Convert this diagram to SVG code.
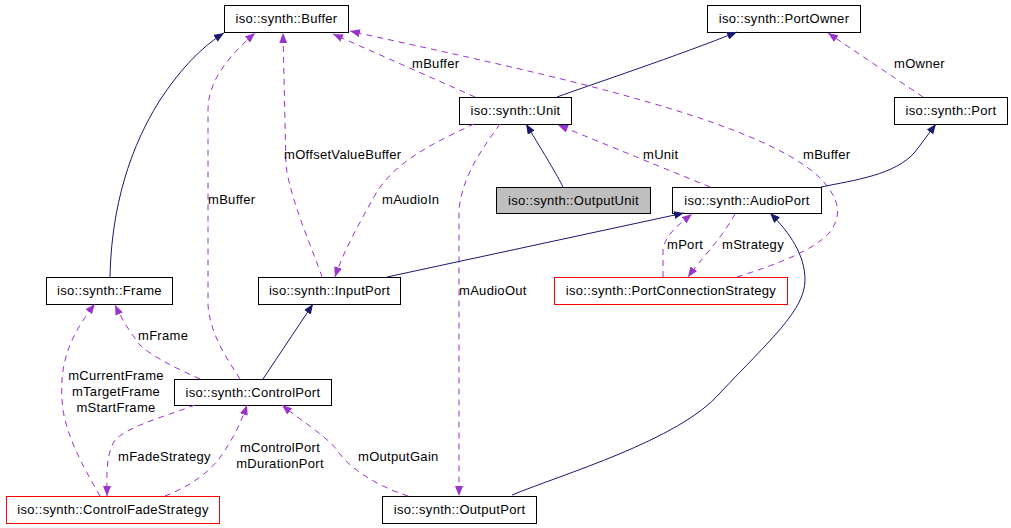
<svg xmlns="http://www.w3.org/2000/svg" width="1011" height="528" viewBox="0 0 1011 528">
<style>
text{font-family:"Liberation Sans",Arial,sans-serif;font-size:13px;letter-spacing:0.3px;fill:#000}
.n rect{fill:#fff;stroke:#000;stroke-width:1}
.n.red rect{stroke:#ff0000}
.n.grey rect{fill:#bfbfbf}
.n text{text-anchor:middle}
.inh{fill:none;stroke:#191970;stroke-width:1;marker-end:url(#an)}
.use{fill:none;stroke:#9a32cd;stroke-width:1;stroke-dasharray:6,5;marker-end:url(#ap)}
.lbl text{text-anchor:start}
.lbl text.lc{text-anchor:middle}
</style>
<defs>
<marker id="an" viewBox="0 0 10 8" refX="10" refY="4" markerWidth="10" markerHeight="8" markerUnits="userSpaceOnUse" orient="auto"><path d="M0,0 L10,4 L0,8 z" fill="#191970"/></marker>
<marker id="ap" viewBox="0 0 10 8" refX="10" refY="4" markerWidth="10" markerHeight="8" markerUnits="userSpaceOnUse" orient="auto"><path d="M0,0 L10,4 L0,8 z" fill="#9a32cd"/></marker>
</defs>
<rect width="1011" height="528" fill="#fff"/>
<g id="nodes">
<g id="Buffer" class="n"><rect x="224.5" y="5.5" width="124" height="27"/><text x="286.5" y="23">iso::synth::Buffer</text></g>
<g id="PortOwner" class="n"><rect x="707.5" y="5.5" width="153" height="27"/><text x="784" y="23">iso::synth::PortOwner</text></g>
<g id="Unit" class="n"><rect x="459.5" y="97.5" width="112" height="27"/><text x="515.5" y="115">iso::synth::Unit</text></g>
<g id="Port" class="n"><rect x="894.5" y="97.5" width="113" height="27"/><text x="951" y="115">iso::synth::Port</text></g>
<g id="OutputUnit" class="n grey"><rect x="496.5" y="187.5" width="154" height="26"/><text x="573.5" y="205">iso::synth::OutputUnit</text></g>
<g id="AudioPort" class="n"><rect x="672.5" y="187.5" width="149" height="26"/><text x="747" y="205">iso::synth::AudioPort</text></g>
<g id="Frame" class="n"><rect x="46.5" y="277.5" width="126" height="27"/><text x="109.5" y="295">iso::synth::Frame</text></g>
<g id="InputPort" class="n"><rect x="258.5" y="277.5" width="142" height="27"/><text x="329.5" y="295">iso::synth::InputPort</text></g>
<g id="PortConnectionStrategy" class="n red"><rect x="554.5" y="277.5" width="233" height="27"/><text x="671" y="295">iso::synth::PortConnectionStrategy</text></g>
<g id="ControlPort" class="n"><rect x="174.5" y="379.5" width="157" height="26"/><text x="253" y="397">iso::synth::ControlPort</text></g>
<g id="ControlFadeStrategy" class="n red"><rect x="6.5" y="496.5" width="213" height="27"/><text x="113" y="514">iso::synth::ControlFadeStrategy</text></g>
<g id="OutputPort" class="n"><rect x="382.5" y="496.5" width="154" height="27"/><text x="459.5" y="514">iso::synth::OutputPort</text></g>
</g>
<g id="connectors">
<path class="inh" d="M110,277 C111,225 122,160 160,100 C180,70 200,48 224,33"/>
<path class="use" d="M240,379 C228,360 210,335 208,305 L208,110 C208,80 230,55 255,33"/>
<path class="use" d="M322,277 C315,255 290,200 286,165 L283,33"/>
<path class="use" d="M475,97 L333,34"/>
<path class="use" d="M737,277 C775,265 815,250 830,232 C842,215 840,200 822,180 C760,115 500,65 350,31"/>
<path class="inh" d="M557,97 C590,85 680,55 737,32"/>
<path class="use" d="M923,97 L828,33"/>
<path class="inh" d="M821,187 C855,180 895,175 915,152 L936,124"/>
<path class="use" d="M710,187 L558,125"/>
<path class="inh" d="M563,187 C557,175 545,155 526,124"/>
<path class="use" d="M474,124 C440,140 395,160 375,195 C360,222 343,252 335,277"/>
<path class="use" d="M500,124 C485,145 462,175 459,210 L459,496"/>
<path class="inh" d="M387,277 L684,213"/>
<path class="use" d="M663,277 L663,250 C665,235 678,225 692,214"/>
<path class="use" d="M735,214 C722,238 700,260 688,277"/>
<path class="inh" d="M512,495 C560,475 680,440 720,393 C770,340 805,310 805,280 C805,255 790,233 770,213"/>
<path class="inh" d="M263,379 L313,304"/>
<path class="use" d="M200,379 C175,368 150,355 140,345 C132,335 122,320 115,305"/>
<path class="use" d="M100,496 C85,470 68,440 63,410 C60,385 62,365 70,345 C76,330 86,315 95,304"/>
<path class="use" d="M195,405 C170,415 130,425 115,440 C105,455 107,480 107,496"/>
<path class="use" d="M165,496 C185,488 210,475 225,450 C235,435 242,420 247,405"/>
<path class="use" d="M408,496 C380,487 350,470 337,450 C325,435 300,420 282,405"/>
</g>
<g id="labels" class="lbl">
<text x="208" y="204">mBuffer</text>
<text x="284" y="159">mOffsetValueBuffer</text>
<text x="412" y="68">mBuffer</text>
<text x="803" y="159">mBuffer</text>
<text x="894" y="68">mOwner</text>
<text x="643" y="159">mUnit</text>
<text x="382" y="204">mAudioIn</text>
<text x="459" y="295">mAudioOut</text>
<text x="667" y="249">mPort</text>
<text x="722" y="249">mStrategy</text>
<text x="138" y="340">mFrame</text>
<text class="lc" x="116" y="380">mCurrentFrame</text>
<text class="lc" x="116" y="396">mTargetFrame</text>
<text class="lc" x="116" y="412">mStartFrame</text>
<text x="118" y="461">mFadeStrategy</text>
<text class="lc" x="280" y="452">mControlPort</text>
<text class="lc" x="280" y="468">mDurationPort</text>
<text x="358" y="461">mOutputGain</text>
</g>
</svg>
